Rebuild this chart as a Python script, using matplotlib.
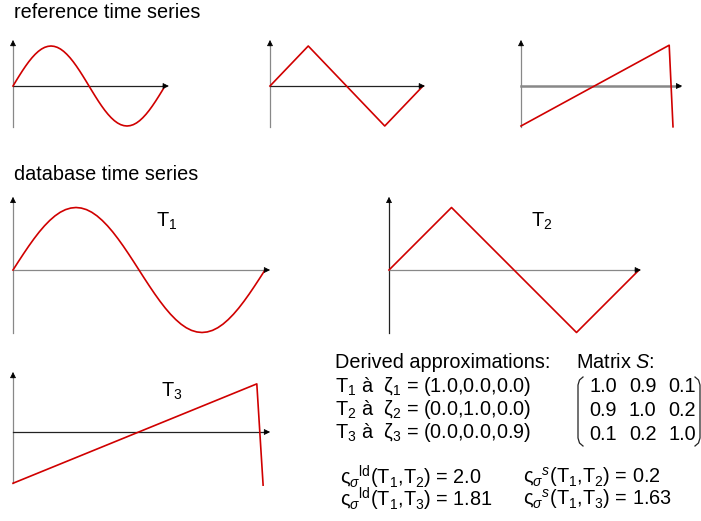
import matplotlib
matplotlib.use("Agg")
import matplotlib.pyplot as plt
from matplotlib.lines import Line2D

plt.rcParams["font.family"] = ["Liberation Sans", "DejaVu Sans"]
plt.rcParams["mathtext.fontset"] = "custom"
plt.rcParams["mathtext.rm"] = "Liberation Sans"
plt.rcParams["mathtext.it"] = "Liberation Sans:italic"
plt.rcParams["mathtext.bf"] = "Liberation Sans:bold"

# ---- data (time in quarter periods, value in amplitude units) ----
sine_t = [i / 12 for i in range(49)]
sine_v = [0.0, 0.131, 0.259, 0.383, 0.5, 0.609, 0.707, 0.793, 0.866, 0.924, 0.966, 0.991, 1.0,
          0.991, 0.966, 0.924, 0.866, 0.793, 0.707, 0.609, 0.5, 0.383, 0.259, 0.131, 0.0,
          -0.131, -0.259, -0.383, -0.5, -0.609, -0.707, -0.793, -0.866, -0.924, -0.966, -0.991, -1.0,
          -0.991, -0.966, -0.924, -0.866, -0.793, -0.707, -0.609, -0.5, -0.383, -0.259, -0.131, 0.0]
tri_t = [0, 1, 3, 4]
tri_v = [0.0, 1.0, -1.0, 0.0]
saw_ref_t = [0, 3.9, 4.0]
saw_ref_v = [-1.0, 1.02, -1.02]
saw_db_t = [0, 3.87, 3.97]
saw_db_v = [-0.82, 0.77, -0.85]

zeta = [(1.0, 0.0, 0.0), (0.0, 1.0, 0.0), (0.0, 0.0, 0.9)]
matrix_s = [[1.0, 0.9, 0.1], [0.9, 1.0, 0.2], [0.1, 0.2, 1.0]]
dist_ld = [2.0, 1.81]
dist_s = [0.2, 1.63]
pairs = [("1", "2"), ("1", "3")]

W, H = 701, 521
RED = "#d00000"
GRAY = "#888888"
DARK = "#222222"

fig = plt.figure(figsize=(W / 100, H / 100), dpi=100)


def fpos(x, y):
    return x / W, 1 - y / H


def panel(origin, sx, sy, xtip, ybot, ytop, xcol, ycol, xlw=0.9):
    ox, oy = origin
    right = ox + xtip * sx
    top = oy - ytop * sy
    bottom = oy - ybot * sy
    ax = fig.add_axes([ox / W, 1 - bottom / H, (right - ox) / W, (bottom - top) / H])
    ax.set_xlim(0, xtip)
    ax.set_ylim(ybot, ytop)
    ax.axis("off")
    ax.plot([0, 0], [ybot, ytop - 3 / sy], color=ycol, lw=0.9, clip_on=False)
    ax.plot([0, xtip - 3 / sx], [0, 0], color=xcol, lw=xlw, clip_on=False)
    head = dict(arrowstyle="-|>", color="black", lw=0.5, mutation_scale=9,
                shrinkA=0, shrinkB=0)
    ax.annotate("", xy=(0, ytop), xytext=(0, ytop - 6 / sy), arrowprops=head,
                annotation_clip=False)
    ax.annotate("", xy=(xtip, 0), xytext=(xtip - 6 / sx, 0), arrowprops=head,
                annotation_clip=False)
    return ax


# reference time series
ax = panel((13, 86), 38, 40, 4.1, -1.03, 1.15, DARK, GRAY)
ax.plot(sine_t, sine_v, color=RED, lw=1.2, clip_on=False)
ax = panel((270, 86), 38.25, 40, 4.05, -1.03, 1.15, DARK, GRAY)
ax.plot(tri_t, tri_v, color=RED, lw=1.2, clip_on=False)
ax = panel((521, 86), 38, 40, 4.24, -1.03, 1.15, GRAY, GRAY, xlw=1.8)
ax.plot(saw_ref_t, saw_ref_v, color=RED, lw=1.2, clip_on=False)

# database time series
ax = panel((13, 270), 63, 62.5, 4.08, -1.0, 1.17, GRAY, GRAY)
ax.plot(sine_t, sine_v, color=RED, lw=1.2, clip_on=False)
ax = panel((389, 270), 62.5, 62.5, 4.03, -1.0, 1.17, GRAY, DARK)
ax.plot(tri_t, tri_v, color=RED, lw=1.2, clip_on=False)
ax = panel((13, 432), 63, 62.5, 4.08, -0.82, 0.96, DARK, GRAY)
ax.plot(saw_db_t, saw_db_v, color=RED, lw=1.2, clip_on=False)

fs = 14.3
fig.text(*fpos(14, 12), "reference time series", fontsize=fs, va="center", ha="left")
fig.text(*fpos(14, 175), "database time series", fontsize=fs, va="center", ha="left")
for lx, ly, i in [(156, 221, "1"), (531, 221, "2"), (161, 391, "3")]:
    fig.text(*fpos(lx, ly), "T$_{%s}$" % i, fontsize=fs, va="center", ha="left")

# derived approximations
fig.text(*fpos(335, 362), "Derived approximations:", fontsize=fs, va="center")
for k, z in enumerate(zeta):
    s = "T$_{%d}$ à  ζ$_{%d}$ = (%.1f,%.1f,%.1f)" % (k + 1, k + 1, *z)
    fig.text(*fpos(335, 386 + 23.5 * k), s, fontsize=fs, va="center")

# matrix S
fig.text(*fpos(576, 362), "Matrix $S$:", fontsize=fs, va="center")
for r, row in enumerate(matrix_s):
    for c, v in enumerate(row):
        fig.text(*fpos(603 + 39.5 * c, 387 + 23.5 * r), "%.1f" % v, fontsize=fs,
                 va="center", ha="center")
lb_x = [583, 579.5, 578, 578, 579.5, 583]
lb_y = [377, 380, 385, 438, 443, 446]
rb_x = [695, 698.5, 700, 700, 698.5, 695]
fig.add_artist(Line2D([x / W for x in lb_x], [1 - y / H for y in lb_y], color=DARK, lw=0.9))
fig.add_artist(Line2D([x / W for x in rb_x], [1 - y / H for y in lb_y], color=DARK, lw=0.9))

# distances
for k, (a, b) in enumerate(pairs):
    y = 477 + 22 * k
    s1 = "ς$_{\\sigma}{}^{\\mathrm{ld}}$(T$_{%s}$,T$_{%s}$) = %s" % (a, b, dist_ld[k])
    s2 = "ς$_{\\sigma}{}^{s}$(T$_{%s}$,T$_{%s}$) = %s" % (a, b, dist_s[k])
    fig.text(*fpos(340, y), s1, fontsize=fs, va="center")
    fig.text(*fpos(523, y), s2, fontsize=fs, va="center")

fig.savefig("out.png", dpi=100)
